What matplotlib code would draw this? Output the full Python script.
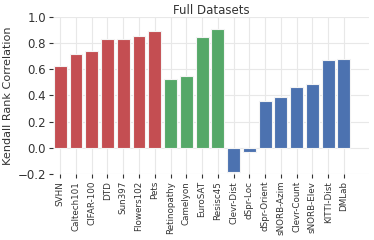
import matplotlib
matplotlib.use("Agg")
import matplotlib.pyplot as plt

datasets = ["SVHN", "Caltech101", "CIFAR-100", "DTD", "Sun397", "Flowers102", "Pets",
            "Retinopathy", "Camelyon", "EuroSAT", "Resisc45",
            "Clevr-Dist", "dSpr-Loc", "dSpr-Orient", "sNORB-Azim", "Clevr-Count",
            "sNORB-Elev", "KITTI-Dist", "DMLab"]
kendall = [0.62, 0.715, 0.735, 0.83, 0.83, 0.85, 0.89,
           0.525, 0.545, 0.845, 0.905,
           -0.185, -0.035, 0.355, 0.39, 0.465, 0.485, 0.67, 0.675]
groups = ["natural"] * 7 + ["specialized"] * 4 + ["structured"] * 8
group_colors = {"natural": "#C44E52", "specialized": "#55A868", "structured": "#4C72B0"}

fig = plt.figure(figsize=(3.74, 2.4), dpi=100)
ax = fig.add_axes([0.142, 0.275, 0.845, 0.656])

x = range(len(datasets))
ax.bar(x, kendall, width=0.82, color=[group_colors[g] for g in groups],
       edgecolor="#f4f4f4", linewidth=0.8, zorder=2)

ax.set_xlim(-0.45, 19.6)
ax.set_ylim(-0.2, 1.0)
ax.set_xticks(list(x))
ax.set_xticklabels(datasets, rotation=90, fontsize=6.3, color="#333333")
ax.set_yticks([-0.2, 0.0, 0.2, 0.4, 0.6, 0.8, 1.0])
ax.set_yticklabels(["\u22120.2", "0.0", "0.2", "0.4", "0.6", "0.8", "1.0"],
                   fontsize=8.5, color="#333333")
ax.tick_params(length=3, width=0.8, color="#333333", pad=2)

ax.grid(True, color="#e8e8e8", linewidth=0.8, zorder=0)
ax.set_axisbelow(True)
for s in ax.spines.values():
    s.set_visible(False)

ax.set_ylabel("Kendall Rank Correlation", fontsize=8.1, color="#333333", labelpad=3)
ax.set_title("Full Datasets", fontsize=8.5, color="#333333", pad=2)

plt.savefig("out.png", dpi=100)
plt.close()
